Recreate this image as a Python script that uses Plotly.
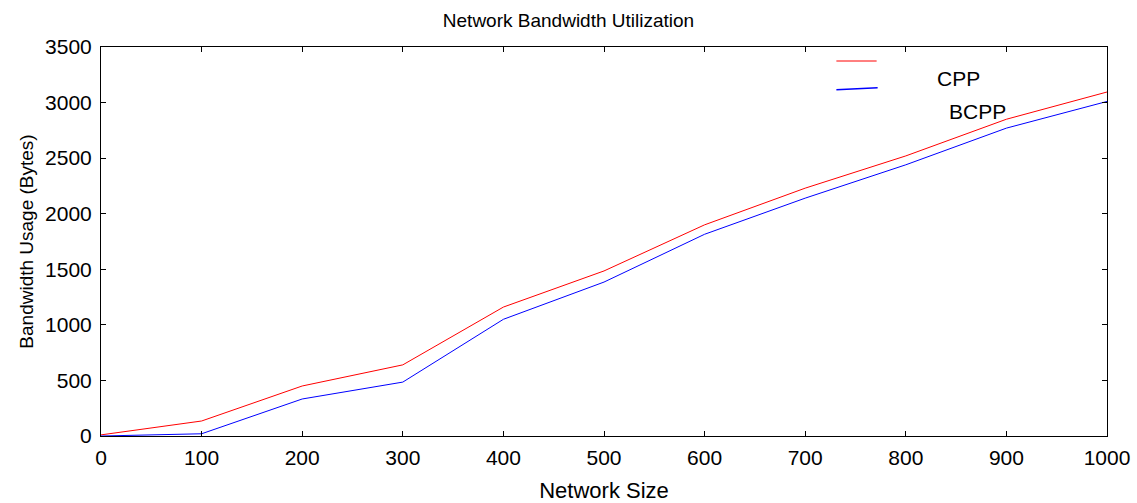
import plotly.graph_objects as go

network_size = [0, 100, 200, 300, 400, 500, 600, 700, 800, 900, 1000]
cpp = [10, 135, 450, 640, 1160, 1485, 1900, 2230, 2520, 2850, 3095]
bcpp = [0, 20, 333, 485, 1050, 1385, 1815, 2140, 2440, 2770, 3010]
x_ticks = [0, 100, 200, 300, 400, 500, 600, 700, 800, 900, 1000]
y_ticks = [0, 500, 1000, 1500, 2000, 2500, 3000, 3500]

FONT = "Liberation Sans, Arial, sans-serif"

fig = go.Figure()
fig.add_trace(go.Scatter(x=network_size, y=cpp, mode="lines", name="CPP",
                         line=dict(color="#ff0000", width=1), showlegend=False))
fig.add_trace(go.Scatter(x=network_size, y=bcpp, mode="lines", name="BCPP",
                         line=dict(color="#0000ff", width=1), showlegend=False))

axis_common = dict(showline=True, linecolor="black", linewidth=1, mirror="ticks",
                   ticks="inside", ticklen=5, tickcolor="black", showgrid=False,
                   zeroline=False, automargin=False,
                   tickfont=dict(family=FONT, size=21, color="black"))

fig.update_xaxes(range=[0, 1000], tickvals=x_ticks, ticktext=[str(v) for v in x_ticks],
                 ticklabelstandoff=3,
                 title=dict(text="Network Size", font=dict(family=FONT, size=22, color="black"), standoff=14),
                 **axis_common)
fig.update_yaxes(range=[0, 3500], tickvals=y_ticks, ticktext=[str(v) for v in y_ticks],
                 ticklabelstandoff=4,
                 title=dict(text="Bandwidth Usage (Bytes)", font=dict(family=FONT, size=19, color="black"), standoff=6),
                 **axis_common)

# Legend reproduced as in the original (lines and labels offset)
fig.add_shape(type="line", xref="paper", yref="paper", x0=0.731, x1=0.771, y0=0.964, y1=0.964,
              line=dict(color="#ff0000", width=1))
fig.add_shape(type="line", xref="paper", yref="paper", x0=0.731, x1=0.772, y0=0.89, y1=0.895,
              line=dict(color="#0000ff", width=1.5))
fig.add_annotation(text="CPP", xref="paper", yref="paper", x=0.852, y=0.92, showarrow=False,
                   xanchor="center", yanchor="middle", font=dict(family=FONT, size=21, color="black"))
fig.add_annotation(text="BCPP", xref="paper", yref="paper", x=0.871, y=0.835, showarrow=False,
                   xanchor="center", yanchor="middle", font=dict(family=FONT, size=21, color="black"))

fig.update_layout(
    width=1137, height=503,
    margin=dict(l=101, r=30, t=47, b=67, autoexpand=False),
    paper_bgcolor="white", plot_bgcolor="white",
    title=dict(text="Network Bandwidth Utilization", x=0.5, xanchor="center", y=0.96, yanchor="middle",
               font=dict(family=FONT, size=19, color="black")),
)

fig.write_html("out.html")
